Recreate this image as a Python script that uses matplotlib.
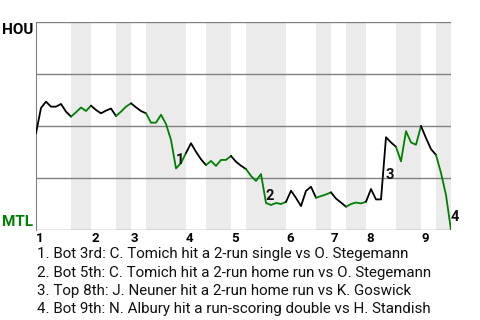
import matplotlib
matplotlib.use('Agg')
import matplotlib.pyplot as plt

# --- data: home-team (HOU) win probability per plate appearance ---
wp = [0.465, 0.587, 0.617, 0.593, 0.593, 0.606, 0.569, 0.545,
      0.566, 0.589, 0.572, 0.598,
      0.577, 0.561, 0.574, 0.584, 0.548,
      0.569, 0.593, 0.609,
      0.590, 0.572, 0.561,
      0.516, 0.516, 0.554, 0.510, 0.433, 0.296, 0.322, 0.370,
      0.417, 0.376, 0.340, 0.312,
      0.332, 0.308, 0.337, 0.337, 0.356,
      0.328, 0.309, 0.293,
      0.260, 0.236, 0.269, 0.130, 0.120, 0.130, 0.125, 0.135,
      0.189, 0.154, 0.115, 0.188, 0.208, 0.155,
      0.163, 0.171, 0.181,
      0.151, 0.132, 0.112,
      0.125, 0.132, 0.128, 0.136,
      0.197, 0.147, 0.147, 0.446, 0.421, 0.400,
      0.330, 0.475, 0.421, 0.410, 0.500,
      0.442, 0.389, 0.361,
      0.274, 0.168, 0.000]

# index where each half inning starts (top 1, bot 1, top 2, ...), last = end
half_starts = [0, 7, 11, 16, 19, 22, 30, 34, 39, 42, 50, 56, 59, 62, 66, 72, 77, 80, 83]
innings = ['1', '2', '3', '4', '5', '6', '7', '8', '9']

# key plays: (index, y, label)
play_idx = [28, 46, 70, 83]
play_y = [0.337, 0.165, 0.264, 0.064]
play_lbl = ['1', '2', '3', '4']
notes = [
    "1. Bot 3rd: C. Tomich hit a 2-run single vs O. Stegemann",
    "2. Bot 5th: C. Tomich hit a 2-run home run vs O. Stegemann",
    "3. Top 8th: J. Neuner hit a 2-run home run vs K. Goswick",
    "4. Bot 9th: N. Albury hit a run-scoring double vs H. Standish",
]

GREEN = "#008000"
BAND = "#ebebeb"
GRID = "#808080"

plt.rcParams['font.family'] = ['Roboto', 'DejaVu Sans']

fig = plt.figure(figsize=(4.8, 3.2), dpi=100)
ax = fig.add_axes([36 / 480, 90 / 320, 415 / 480, 208 / 320])
ax.set_xlim(0, 83)
ax.set_ylim(0, 1)

# shaded bottom halves
for k in range(1, len(half_starts) - 1, 2):
    ax.axvspan(half_starts[k], half_starts[k + 1], color=BAND, lw=0, zorder=0)

for g in [0, 0.25, 0.5, 0.75, 1.0]:
    ax.axhline(g, color=GRID, lw=1, zorder=1)

# line, black for top halves, green for bottom halves
for k in range(len(half_starts) - 1):
    a, b = half_starts[k], half_starts[k + 1]
    xs = list(range(a, b + 1))
    ax.plot(xs, wp[a:b + 1], color='black' if k % 2 == 0 else GREEN,
            lw=1.3, zorder=3, solid_capstyle='round', solid_joinstyle='round')

for i, y, s in zip(play_idx, play_y, play_lbl):
    ax.text(i, y, s, fontsize=10.5, fontweight='bold', color='#111111',
            ha='left', va='center', zorder=4)

for side in ['top', 'right', 'bottom']:
    ax.spines[side].set_visible(False)
ax.spines['left'].set_color(GRID)
ax.set_yticks([])
ax.set_xticks(half_starts[0:-1:2])
ax.set_xticklabels(innings, fontsize=9.5, fontweight='bold', ha='left')
ax.tick_params(axis='x', length=0, pad=1.5)

fig.text(2 / 480, 1 - 23 / 320, "HOU", fontsize=11, fontweight='bold',
         ha='left', va='top', color='black')
fig.text(2 / 480, 1 - 226 / 320, "MTL", fontsize=11, fontweight='bold',
         ha='left', va='baseline', color=GREEN)

for n, line in enumerate(notes):
    fig.text(37 / 480, 1 - (258 + 18.5 * n) / 320, line, fontsize=10.9,
             ha='left', va='baseline', color='#111111')

fig.savefig("out.png", dpi=100)
